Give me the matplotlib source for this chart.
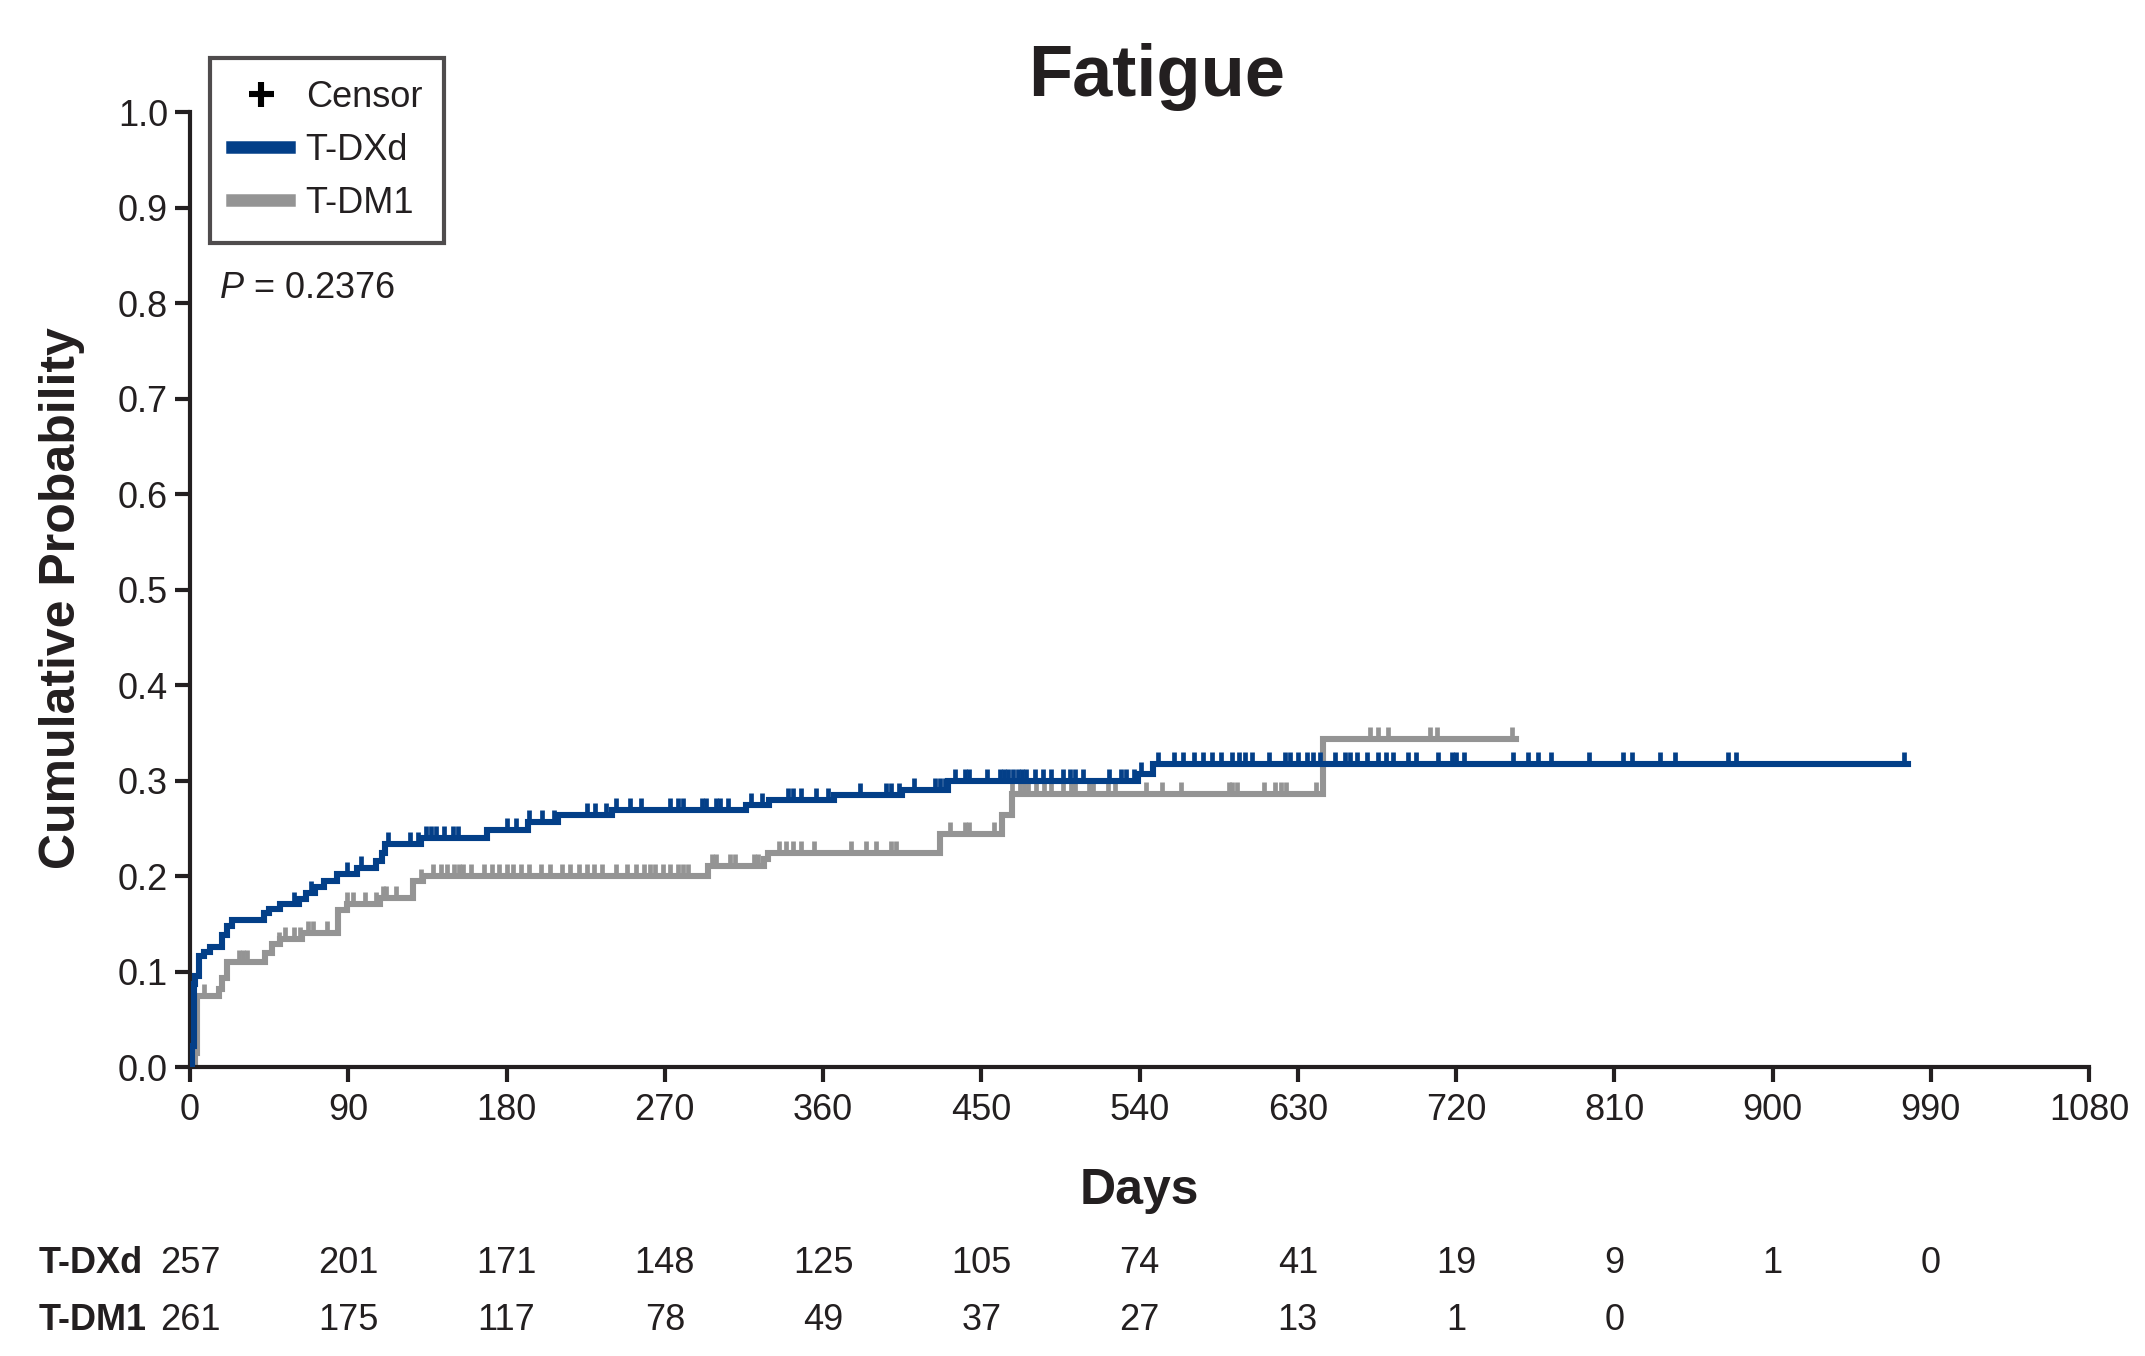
import matplotlib
matplotlib.use("Agg")
import matplotlib.pyplot as plt
import matplotlib.transforms as mtransforms
from matplotlib.path import Path
from matplotlib.lines import Line2D
import numpy as np

plt.rcParams['font.family'] = ['Liberation Sans', 'DejaVu Sans']
plt.rcParams['mathtext.fontset'] = 'custom'
plt.rcParams['mathtext.it'] = 'Liberation Sans:italic'
plt.rcParams['mathtext.rm'] = 'Liberation Sans'

# ---------------- data ----------------
title = "Fatigue"
p_text = "$P$ = 0.2376"
series_names = ["T-DXd", "T-DM1"]

# T-DXd cumulative probability step curve (event time, value after step)
tdxd_time = [0, 1, 2, 3, 5, 7.7, 11.6, 18.3, 21, 24, 42, 45, 51, 62, 66, 71, 76,
             83.4, 95, 106, 109, 111, 131.5, 169, 192, 209, 240, 316, 329, 366,
             405, 431, 539, 547.6]
tdxd_prob = [0, 0.022, 0.087, 0.095, 0.116, 0.120, 0.126, 0.138, 0.148, 0.154,
             0.161, 0.166, 0.171, 0.176, 0.182, 0.188, 0.195, 0.202, 0.208, 0.216,
             0.224, 0.234, 0.240, 0.248, 0.257, 0.264, 0.269, 0.274, 0.280, 0.285,
             0.290, 0.299, 0.307, 0.317]
tdxd_end = 977
tdxd_censor = [58.9, 69, 89, 97, 112.6, 125, 129.6, 134.3, 137, 140, 144.7, 149.4,
               152.5, 180.5, 185.5, 192.8, 200.3, 207, 225.5, 230.5, 236.7, 242.4,
               250.3, 256.4, 273, 277.7, 280.5, 290.9, 293.7, 299.4, 301.3, 306,
               318.8, 325.4, 339.9, 342.8, 347.5, 356, 362.9, 380.9, 395.6, 398.4,
               403.1, 411.6, 423.9, 426.7, 429.2, 434.8, 440.9, 443.1, 453.1, 460.7,
               463.1, 465.4, 468.2, 470.7, 473.3, 475.2, 480.5, 485.3, 489.6, 496.5,
               500.3, 503.1, 507.9, 522.6, 529.5, 532.4, 537, 540.9, 550.3, 559.4,
               565, 570.7, 576.3, 581.4, 586.5, 592.7, 596.5, 599.7, 604, 613.5,
               622.9, 625.4, 630.4, 635.2, 638.9, 642.7, 651.2, 656.9, 659.7, 663.5,
               669.1, 675.7, 680.4, 684, 692.5, 697.4, 709.6, 717.7, 719.8, 724.4,
               752.3, 761, 766.5, 774.2, 795.9, 814.8, 819.9, 836, 844.7, 874.6,
               879.2, 974.7]

# T-DM1 cumulative probability step curve
tdm1_time = [0, 3, 4, 16.4, 18.3, 21, 42.8, 46.6, 51.3, 63.6, 84.4, 89, 108,
             126.8, 132.5, 294.7, 326.5, 328.6, 426.7, 461.6, 467.3, 644.6]
tdm1_prob = [0, 0.015, 0.074, 0.082, 0.093, 0.110, 0.119, 0.129, 0.134, 0.140,
             0.164, 0.171, 0.177, 0.195, 0.200, 0.210, 0.218, 0.224, 0.244, 0.264,
             0.286, 0.344]
tdm1_end = 754
tdm1_censor = [7.9, 27.7, 30, 32.4, 50.4, 54.1, 58.9, 62.6, 67.3, 70.2, 77.7, 89,
               92.8, 99.4, 106, 109.8, 111.7, 117.3, 131.5, 138.1, 142.8, 146.2,
               150.3, 153, 155, 159.8, 167.3, 172, 175.8, 180.5, 183.4, 188.1, 192.8,
               199.4, 205, 211.6, 216.3, 221, 225.8, 229.5, 234.2, 242.4, 248.4,
               253.7, 257.9, 261.6, 264.5, 268.8, 273, 277.7, 280.5, 283.3, 297.1,
               299, 306.9, 309.7, 321, 322.9, 334.9, 338.9, 342.7, 347.5, 355,
               376.1, 384.6, 390.4, 398.7, 401.6, 432.4, 440.9, 442.8, 457.3, 461.2,
               467.3, 472, 474.5, 476.3, 480.9, 485.8, 489.6, 496.5, 501.3, 503.1,
               511.2, 513.5, 522, 526.1, 543.7, 552.7, 563.5, 590.8, 592.7, 595.5,
               611, 617.3, 620.5, 623.5, 640.5, 671.1, 675.8, 681.5, 705, 709, 752]

# number at risk
risk_times = [0, 90, 180, 270, 360, 450, 540, 630, 720, 810, 900, 990]
tdxd_risk = [257, 201, 171, 148, 125, 105, 74, 41, 19, 9, 1, 0]
tdm1_risk = [261, 175, 117, 78, 49, 37, 27, 13, 1, 0]

x_ticks = list(range(0, 1081, 90))
y_ticks = [i / 10 for i in range(11)]

# ---------------- styles ----------------
BLUE = "#033F88"
GRAY = "#949494"
DARK = "#231F20"
TICK_FS = 13

fig = plt.figure(figsize=(10.725, 6.78), dpi=200)
ax = fig.add_axes([0.0886, 0.2131, 0.8853, 0.7043])

def step_value(times, probs, t):
    idx = np.searchsorted(np.asarray(times), t, side='right') - 1
    return np.asarray(probs)[idx]

tick_marker = Path([(0, 0), (0, 1)], [Path.MOVETO, Path.LINETO])

for times, probs, end, cens, col, z in [
        (tdm1_time, tdm1_prob, tdm1_end, tdm1_censor, GRAY, 2),
        (tdxd_time, tdxd_prob, tdxd_end, tdxd_censor, BLUE, 3)]:
    xs = list(times) + [end]
    ys = list(probs) + [probs[-1]]
    ax.step(xs, ys, where='post', color=col, lw=2.2, zorder=z,
            solid_joinstyle='miter')
    cy = step_value(times, probs, np.asarray(cens))
    ax.plot(cens, cy, linestyle='none', marker=tick_marker, markersize=8.5,
            markeredgewidth=1.7, color=col, zorder=z)

ax.set_xlim(0, 1080)
ax.set_ylim(0, 1.0)
ax.set_xticks(x_ticks)
ax.set_xticklabels([str(v) for v in x_ticks])
ax.set_yticks(y_ticks)
ax.set_yticklabels([f"{v:.1f}" for v in y_ticks])

for s in ['top', 'right']:
    ax.spines[s].set_visible(False)
for s in ['left', 'bottom']:
    ax.spines[s].set_linewidth(1.5)
    ax.spines[s].set_color(DARK)
    ax.spines[s].set_capstyle('projecting')
ax.tick_params(axis='both', direction='out', length=5.4, width=1.5,
               color=DARK, labelsize=TICK_FS, labelcolor=DARK, pad=2.5)
ax.tick_params(axis='x', pad=4)

# titles and labels
fig.text(0.539, 0.929, title, ha='center', va='baseline', fontsize=26,
         fontweight='bold', color=DARK)
fig.text(0.0886 + 0.8853 / 2, 0.112, "Days", ha='center', va='baseline',
         fontsize=18, fontweight='bold', color=DARK)
fig.text(0.029, 0.559, "Cumulative Probability", rotation=90, ha='center',
         va='center', fontsize=18, fontweight='bold', color=DARK)

# P value
ax.text(0.015, 0.815, p_text, transform=ax.transAxes, ha='left', va='center',
        fontsize=TICK_FS, color=DARK)

# legend
handles = [
    Line2D([], [], linestyle='none', marker='+', markersize=9,
           markeredgewidth=2.2, color='black'),
    Line2D([], [], color=BLUE, lw=4.5),
    Line2D([], [], color=GRAY, lw=4.5),
]
leg = fig.legend(handles, ["Censor"] + series_names, loc='upper left',
                 bbox_to_anchor=(0.0979, 0.957), fontsize=TICK_FS,
                 frameon=True, fancybox=False, handlelength=1.6,
                 handletextpad=0.45, labelspacing=0.5, borderpad=0.6,
                 borderaxespad=0.0)
leg.get_frame().set_edgecolor(DARK)
leg.get_frame().set_linewidth(1.5)
for t in leg.get_texts():
    t.set_color(DARK)

# number at risk table
trans = mtransforms.blended_transform_factory(ax.transData, fig.transFigure)
row_y = [0.068, 0.026]
for name, risk, yy in [(series_names[0], tdxd_risk, row_y[0]),
                       (series_names[1], tdm1_risk, row_y[1])]:
    fig.text(0.018, yy, name, ha='left', va='center', fontsize=TICK_FS,
             fontweight='bold', color=DARK)
    for t, n in zip(risk_times, risk):
        ax.text(t, yy, str(n), transform=trans, ha='center', va='center',
                fontsize=TICK_FS, color=DARK, clip_on=False)

fig.savefig("out.png", dpi=200)
